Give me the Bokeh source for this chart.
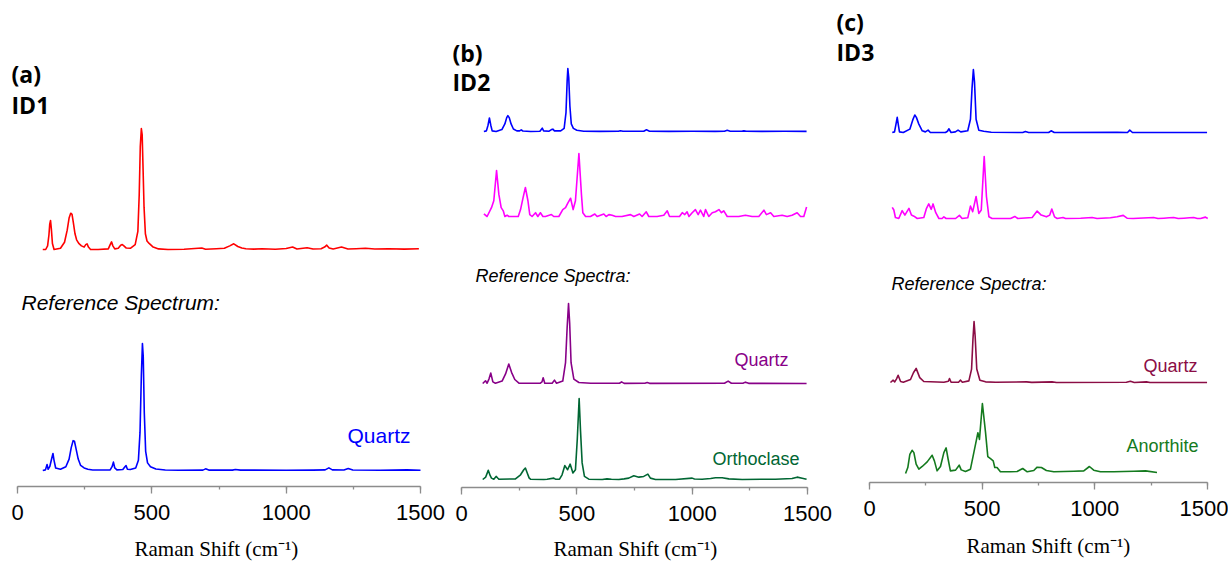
from bokeh.plotting import figure
from bokeh.models import Range1d, LinearAxis, SingleIntervalTicker
from bokeh.layouts import row, column
from bokeh.embed import file_html
from bokeh.resources import INLINE
from bokeh.core.properties import value

# ---------------- data (Raman shift cm^-1, relative intensity) ----------------
ID1 = [(94,0),(105,0),(112,0.03),(117,0.12),(120,0.21),(123,0.24),(126,0.17),(130,0.05),(136,0),
       (160,0.01),(175,0.06),(185,0.16),(192,0.26),(198,0.30),(203,0.29),(208,0.22),(214,0.13),(220,0.08),
       (228,0.05),(238,0.03),(248,0.02),(254,0.04),(259,0.047),(264,0.02),(272,0),(300,0),(338,0.005),
       (345,0.04),(350,0.063),(355,0.03),(362,0.005),(375,0.01),(384,0.035),(390,0.041),(396,0.03),(405,0.012),
       (420,0.01),(438,0.04),(448,0.15),(453,0.45),(457,0.85),(461,1.0),(464,0.95),(467,0.7),(471,0.35),
       (476,0.13),(482,0.07),(490,0.05),(505,0.02),(525,0.005),(560,0),(620,0.002),(686,0.012),(700,0.002),
       (740,0.006),(770,0.01),(790,0.03),(805,0.047),(820,0.025),(835,0.012),(850,0.006),(880,0.003),
       (910,0.006),(960,0.002),(1000,0.008),(1024,0.02),(1040,0.004),(1078,0.015),(1100,0.004),(1130,0.006),
       (1143,0.02),(1151,0.036),(1160,0.012),(1175,0.004),(1206,0.02),(1230,0.004),(1260,0.006),(1295,0.01),
       (1330,0.004),(1380,0.006),(1440,0.003),(1494,0.006)]

QUARTZ_A = [(94,0),(104,0.005),(110,0.047),(114,0.01),(120,0.03),(128,0.1),(132,0.134),(136,0.08),(142,0.02),
            (160,0.01),(180,0.03),(192,0.09),(200,0.18),(207,0.235),(212,0.23),(218,0.17),(226,0.09),(235,0.04),
            (248,0.02),(262,0.01),(280,0.004),(345,0.005),(352,0.03),(357,0.066),(362,0.02),(370,0.005),
            (392,0.008),(400,0.03),(404,0.039),(409,0.01),(420,0.008),(440,0.02),(450,0.08),(456,0.3),(461,0.75),
            (465,1.0),(468,0.9),(472,0.45),(477,0.15),(484,0.06),(495,0.03),(515,0.012),(550,0.004),(600,0.002),
            (690,0.003),(700,0.013),(712,0.003),(800,0.003),(811,0.008),(830,0.003),(1000,0.002),(1100,0.003),
            (1145,0.005),(1159,0.021),(1172,0.005),(1215,0.004),(1231,0.016),(1248,0.004),(1350,0.002),
            (1450,0.005),(1500,0.002)]

ID2_BLUE = [(97,0),(108,0.01),(115,0.1),(121,0.214),(127,0.1),(133,0.01),(150,0),(175,0.03),(188,0.12),
            (196,0.22),(201,0.251),(207,0.22),(215,0.12),(225,0.04),(240,0.01),(252,0.01),(259,0.027),(266,0.008),
            (300,0),(340,0.005),(350,0.053),(356,0.01),(380,0.005),(390,0.03),(396,0.037),(403,0.01),(430,0.01),
            (445,0.05),(453,0.3),(458,0.8),(461,1.0),(465,0.85),(470,0.4),(476,0.12),(485,0.05),(500,0.02),
            (530,0.005),(600,0.002),(680,0.003),(689,0.012),(700,0.003),(790,0.004),(802,0.027),(815,0.005),
            (900,0.002),(1000,0.004),(1100,0.002),(1140,0.005),(1152,0.02),(1165,0.005),(1215,0.003),
            (1224,0.01),(1235,0.003),(1300,0.002),(1400,0.004),(1496,0.002)]

ID2_MAGENTA = [(97,0.04),(111,0),(130,0.14),(140,0.25),(152,0.73),(162,0.35),(172,0.14),(181,0.09),(188,0),
               (198,0.02),(205,0),(246,0),(256,0.11),(267,0.30),(277,0.46),(288,0.25),(296,0.03),(306,0),
               (321,0.06),(331,0),(342,0.06),(353,0),(364,0),(390,0.03),(400,0),(422,0),(439,0.11),(451,0.14),
               (462,0.22),(473,0.29),(484,0.11),(494,0.25),(509,1.0),(520,0.35),(526,0.06),(538,0),(559,0),
               (578,0.04),(588,0),(617,0.04),(627,0),(639,0.03),(653,0.02),(668,0),(696,0),(733,0.03),(747,0),
               (772,0.04),(783,0),(801,0.075),(812,0),(848,0),(877,0.02),(892,0.09),(902,0),(945,0),(957,0.06),
               (968,0.03),(978,0.075),(986,0),(1000,0.06),(1014,0.11),(1026,0.03),(1036,0.10),(1050,0),
               (1058,0.11),(1072,0),(1087,0.06),(1101,0.075),(1116,0.11),(1127,0.06),(1137,0.09),(1152,0),
               (1166,0),(1202,0),(1231,0.02),(1260,0),(1289,0),(1311,0.10),(1322,0.03),(1340,0.06),(1354,0),
               (1390,0.02),(1412,0),(1433,0.02),(1455,0.06),(1470,0),(1484,0),(1496,0.15)]

QUARTZ_B = [(92,0),(104,0.034),(111,0.004),(119,0.055),(127,0.13),(136,0.02),(147,0.004),(176,0.03),(191,0.12),
            (205,0.244),(217,0.14),(231,0.05),(249,0.005),(342,0.004),(349,0.02),(354,0.071),(361,0.004),
            (393,0.004),(403,0.042),(412,0.004),(439,0.03),(451,0.26),(458,0.7),(464,1.0),(469,0.75),(475,0.26),
            (487,0.055),(509,0.013),(560,0.004),(685,0.003),(694,0.02),(705,0.002),(795,0.003),(805,0.013),
            (815,0.002),(1140,0.003),(1156,0.03),(1170,0.003),(1220,0.003),(1231,0.017),(1245,0.002),(1496,0)]

ORTHOCLASE = [(92,0),(105,0.03),(116,0.113),(124,0.05),(130,0.017),(140,0.004),(150,0.038),(158,0.015),
              (162,0.004),(234,0.008),(256,0.058),(270,0.12),(277,0.142),(285,0.08),(293,0.02),(299,0.004),
              (357,0),(371,0.004),(400,0.017),(407,0.004),(425,0.004),(436,0.058),(448,0.172),(460,0.12),
              (471,0.19),(483,0.08),(494,0.12),(502,0.5),(510,1.0),(516,0.6),(523,0.205),(533,0.038),(552,0.004),
              (610,0),(631,0.008),(650,0.003),(682,0),(705,0.008),(725,0.017),(747,0.046),(769,0.029),(790,0.038),
              (808,0.067),(819,0.017),(841,0),(928,0),(1000,0.017),(1010,0.006),(1043,0.004),(1080,0.012),
              (1101,0.021),(1130,0.021),(1159,0.008),(1217,0),(1300,0.004),(1361,0.004),(1433,0.012),
              (1455,0.029),(1477,0.016),(1496,0.004)]

ID3_BLUE = [(101,0),(111,0.01),(117,0.12),(123,0.24),(128,0.12),(133,0.01),(150,0),(179,0.053),(192,0.2),
            (201,0.277),(208,0.24),(219,0.133),(234,0.027),(248,0.01),(260,0.037),(270,0),(337,0),(346,0.02),
            (352,0.059),(362,0),(381,0.01),(393,0.037),(405,0.01),(436,0.027),(448,0.21),(455,0.7),(461,1.0),
            (466,0.8),(473,0.21),(485,0.037),(507,0.021),(540,0.004),(680,0),(692,0.016),(706,0),(795,0),
            (806,0.027),(820,0),(1100,0.004),(1145,0),(1155,0.037),(1167,0),(1498,0)]

ID3_MAGENTA = [(101,0.18),(108,0.137),(115,0.016),(130,0),(145,0.126),(157,0.055),(175,0.164),(186,0.055),
               (197,0.038),(212,0),(241,0.016),(253,0.164),(263,0.235),(274,0.148),(282,0.235),(294,0.093),
               (308,0),(322,0),(330,0.027),(340,0),(382,0),(399,0.05),(411,0),(436,0.011),(448,0.2),(458,0.11),
               (473,0.355),(485,0.082),(496,0.137),(509,1.0),(519,0.355),(530,0.027),(544,0),(626,0),(645,0.033),
               (658,0),(722,0.016),(744,0.12),(762,0.055),(785,0.027),(800,0.055),(809,0.153),(821,0.027),(833,0),
               (859,0.016),(870,0),(937,0.005),(988,0.016),(1010,0),(1069,0.011),(1099,0.027),(1126,0.05),
               (1143,0.005),(1170,0),(1261,0.016),(1280,0),(1306,0.005),(1330,0.011),(1350,0.016),(1370,0),
               (1395,0.005),(1420,0.011),(1439,0.016),(1455,0),(1469,0),(1491,0.022),(1501,0)]

QUARTZ_C = [(93,0),(105,0.038),(112,0.01),(120,0.06),(127,0.119),(138,0.016),(150,0.005),(182,0.05),(195,0.16),
            (207,0.232),(223,0.08),(241,0.016),(330,0.005),(350,0.02),(355,0.065),(362,0.005),(395,0.005),
            (404,0.038),(412,0.005),(441,0.027),(453,0.22),(459,0.7),(464,1.0),(469,0.75),(476,0.22),(490,0.038),
            (515,0.011),(560,0.003),(697,0.01),(720,0.002),(810,0.01),(830,0),(1140,0.003),(1158,0.02),(1175,0),
            (1229,0.01),(1245,0),(1498,0)]

ANORTHITE = [(160,-0.014),(170,0.072),(179,0.264),(189,0.322),(197,0.288),(207,0.12),(219,0.048),(234,0.087),
             (256,0.154),(278,0.25),(288,0.168),(300,0.024),(315,0.087),(330,0.288),(340,0.356),(349,0.192),
             (359,0.024),(382,0.034),(398,0.106),(407,0.038),(426,0.014),(448,0.048),(463,0.288),(475,0.48),
             (481,0.577),(488,0.48),(501,1.0),(515,0.577),(525,0.231),(537,0.2),(549,0.168),(556,0.072),
             (566,0.072),(581,0.01),(626,0.01),(655,0.014),(680,0.058),(700,0.01),(729,0.029),(744,0.077),
             (763,0.072),(785,0.029),(818,0.01),(907,0.019),(951,0.024),(976,0.087),(995,0.034),(1025,0.01),
             (1084,0.01),(1173,0.019),(1225,0.024),(1276,0.0)]

TICKS = [0, 500, 1000, 1500]
AXIS_TITLE = "Raman Shift (cm\u207b\u00b9)"

# ---------------- layout helpers (page pixel coordinates) ----------------
PAGE_H = 562
MAIN_H = 532
TITLE_H = PAGE_H - MAIN_H


def bare(p):
    p.outline_line_color = None
    p.background_fill_color = "white"
    p.border_fill_color = "white"
    p.xgrid.visible = False
    p.ygrid.visible = False


def panel(left, right, px0, px1500, axis_py, title_left, title_py):
    w = right - left
    k = 1500.0 / (px1500 - px0)
    xr = Range1d(-(px0 - left) * k, 1500 + (right - px1500) * k)
    p = figure(width=w, height=MAIN_H, x_range=xr, y_range=Range1d(0, axis_py),
               x_axis_location=None, y_axis_location=None,
               output_backend="svg", toolbar_location=None,
               min_border_left=0, min_border_right=0, min_border_top=0,
               min_border_bottom=MAIN_H - axis_py)
    bare(p)
    ax = LinearAxis(ticker=SingleIntervalTicker(interval=500, num_minor_ticks=2), bounds=(TICKS[0], TICKS[-1]))
    ax.axis_line_color = "#8c8c8c"
    ax.axis_line_width = 1.3
    ax.major_tick_line_color = "#8c8c8c"
    ax.major_tick_line_width = 1.3
    ax.major_tick_in = 0
    ax.major_tick_out = 7
    ax.minor_tick_line_color = "#8c8c8c"
    ax.minor_tick_line_width = 1.3
    ax.minor_tick_in = 0
    ax.minor_tick_out = 3
    ax.major_label_text_font = "Liberation Sans"
    ax.major_label_text_font_size = "22px"
    ax.major_label_text_color = "black"
    ax.major_label_standoff = 11
    p.add_layout(ax, "below")

    # axis title strip under the panel, sharing the x scale
    t = figure(width=w, height=TITLE_H, x_range=xr, y_range=Range1d(0, TITLE_H),
               x_axis_location=None, y_axis_location=None,
               output_backend="svg", toolbar_location=None,
               min_border_left=0, min_border_right=0, min_border_top=0, min_border_bottom=0)
    bare(t)
    t.text(x=[(title_left - px0) * k], y=[PAGE_H - title_py], text=[AXIS_TITLE],
           text_font=value("Liberation Serif"), text_font_size="21px", text_color="black",
           text_baseline="middle", text_align="left")

    def tx(px):
        return (px - px0) * k

    def ty(py):
        return axis_py - py
    return column(p, t, spacing=0), p, tx, ty


def trace(p, ty, pairs, base_py, peak_py, color):
    base = ty(base_py)
    amp = base_py - peak_py
    xs = [a for a, _ in pairs]
    ys = [base + amp * b for _, b in pairs]
    p.line(xs, ys, line_color=color, line_width=1.6, line_join="round")


def txt(p, tx, ty, px, py, s, size, color="black", style="normal", font="Liberation Sans"):
    p.text(x=[tx(px)], y=[ty(py)], text=[s], text_font=value(font), text_font_size=size,
           text_font_style=style, text_color=color, text_baseline="middle", text_align="left")


# ---------------- panel (a) ----------------
la, pa, ax_, ay_ = panel(0, 446, 17, 420, 486, 134, 548)
trace(pa, ay_, ID1, 249, 128, "#ff0000")
trace(pa, ay_, QUARTZ_A, 470, 343, "#0000ff")
txt(pa, ax_, ay_, 11, 73, "(a)", "23px", style="bold", font="Open Sans")
txt(pa, ax_, ay_, 11, 104, "ID1", "23px", style="bold", font="Open Sans")
txt(pa, ax_, ay_, 21, 302, "Reference Spectrum:", "21px", style="italic")
txt(pa, ax_, ay_, 347, 435, "Quartz", "21px", color="#0000ff")

# ---------------- panel (b) ----------------
lb, pb, bx_, by_ = panel(446, 834, 461, 807, 487, 553, 548)
trace(pb, by_, ID2_BLUE, 131, 68, "#0000ff")
trace(pb, by_, ID2_MAGENTA, 216, 153, "#ff00ff")
trace(pb, by_, QUARTZ_B, 383, 303, "#880088")
trace(pb, by_, ORTHOCLASE, 479, 398, "#006633")
txt(pb, bx_, by_, 452, 52, "(b)", "23px", style="bold", font="Open Sans")
txt(pb, bx_, by_, 452, 81, "ID2", "23px", style="bold", font="Open Sans")
txt(pb, bx_, by_, 475, 275, "Reference Spectra:", "18px", style="italic")
txt(pb, bx_, by_, 734, 359, "Quartz", "18px", color="#880088")
txt(pb, bx_, by_, 712, 458, "Orthoclase", "18px", color="#006633")

# ---------------- panel (c) ----------------
lc, pc, cx_, cy_ = panel(834, 1228, 869, 1207, 482, 966, 545)
trace(pc, cy_, ID3_BLUE, 132, 69, "#0000ff")
trace(pc, cy_, ID3_MAGENTA, 218, 156, "#ff00ff")
trace(pc, cy_, QUARTZ_C, 382, 321, "#8b0d45")
trace(pc, cy_, ANORTHITE, 472, 403, "#147a1e")
txt(pc, cx_, cy_, 836, 21, "(c)", "23px", style="bold", font="Open Sans")
txt(pc, cx_, cy_, 836, 51, "ID3", "23px", style="bold", font="Open Sans")
txt(pc, cx_, cy_, 891, 283, "Reference Spectra:", "18px", style="italic")
txt(pc, cx_, cy_, 1143, 365, "Quartz", "18px", color="#8b0d45")
txt(pc, cx_, cy_, 1126, 445, "Anorthite", "18px", color="#147a1e")

layout = row(la, lb, lc, spacing=0)
open("out.html", "w").write(file_html(layout, INLINE))
